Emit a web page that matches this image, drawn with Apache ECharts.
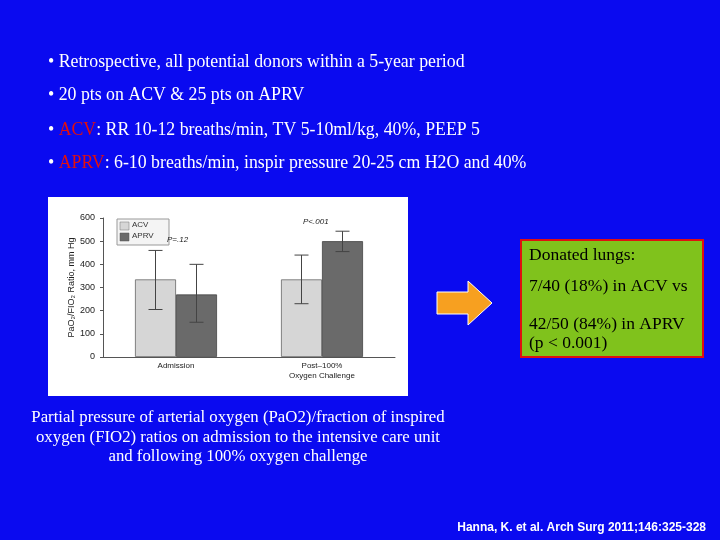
<!DOCTYPE html>
<html><head><meta charset="utf-8">
<script src="https://cdn.jsdelivr.net/npm/echarts@6/dist/echarts.min.js"></script>
<style>html,body{margin:0;background:#0a0af0}#c{width:720px;height:540px}</style>
</head><body><div id="c"></div>
<script>
const categories = ['Admission', 'Post\u2013100%\nOxygen Challenge']
const acv = [335, 335]
const aprv = [270, 500]
const acvErr = [[205, 460], [230, 440]]
const aprvErr = [[150, 400], [455, 543]]
const yTicks = [0, 100, 200, 300, 400, 500, 600]

const chart = echarts.init(document.getElementById('c'))
const serif = '"Liberation Serif", "DejaVu Serif", serif'
const sans = '"Liberation Sans", Arial, sans-serif'

const bullet = (y, parts) => ({
  type: 'text', left: 48, top: y - 10,
  style: { text: parts.map(p => p.r ? `{r|${p.t}}` : `{w|${p.t}}`).join(''),
    rich: { w: { fill: '#fff', font: '17.8px ' + serif }, r: { fill: '#e01010', font: '17.8px ' + serif } } }
})

// error bars drawn through the chart's own coordinate system
const errSeries = (errs, offset) => ({
  type: 'custom', z: 5,
  data: errs.map((e, i) => [i, e[0], e[1]]),
  renderItem: (params, api) => {
    const lo = api.coord([api.value(0), api.value(1)])
    const hi = api.coord([api.value(0), api.value(2)])
    const x = lo[0] + offset
    const style = { stroke: '#444', lineWidth: 1 }
    return { type: 'group', children: [
      { type: 'line', shape: { x1: x, y1: lo[1], x2: x, y2: hi[1] }, style },
      { type: 'line', shape: { x1: x - 7, y1: lo[1], x2: x + 7, y2: lo[1] }, style },
      { type: 'line', shape: { x1: x - 7, y1: hi[1], x2: x + 7, y2: hi[1] }, style }
    ] }
  }
})

chart.setOption({
  backgroundColor: '#0a0af0',
  animation: false,
  graphic: [
    { type: 'rect', shape: { x: 48, y: 197, width: 360, height: 199 }, style: { fill: '#fff' }, z: -10 },
    bullet(63, [{ t: '\u2022 Retrospective, all potential donors within a 5-year period' }]),
    bullet(96, [{ t: '\u2022 20 pts on ACV & 25 pts on APRV' }]),
    bullet(131, [{ t: '\u2022 ' }, { t: 'ACV', r: 1 }, { t: ': RR 10-12 breaths/min, TV 5-10ml/kg, 40%, PEEP 5' }]),
    bullet(164, [{ t: '\u2022 ' }, { t: 'APRV', r: 1 }, { t: ': 6-10 breaths/min, inspir pressure 20-25 cm H2O and 40%' }]),
    { type: 'rect', shape: { x: 521, y: 240, width: 182, height: 117 }, style: { fill: '#80c21c', stroke: '#e01010', lineWidth: 2 } },
    { type: 'text', left: 529, top: 246, style: { text: 'Donated lungs:', fill: '#000', font: '17.5px ' + serif } },
    { type: 'text', left: 529, top: 277, style: { text: '7/40 (18%) in ACV vs', fill: '#000', font: '17.5px ' + serif } },
    { type: 'text', left: 529, top: 315, style: { text: '42/50 (84%) in APRV\n(p < 0.001)', fill: '#000', font: '17.5px ' + serif, lineHeight: 19 } },
    { type: 'polygon', shape: { points: [[437, 292], [468, 292], [468, 281], [492, 303], [468, 325], [468, 314], [437, 314]] },
      style: { fill: '#f7a020', stroke: '#fff', lineWidth: 1 } },
    { type: 'text', x: 238, y: 408, style: { text: 'Partial pressure of arterial oxygen (PaO2)/fraction of inspired\noxygen (FIO2) ratios on admission to the intensive care unit\nand following 100% oxygen challenge',
      fill: '#fff', font: '16.8px ' + serif, align: 'center', lineHeight: 19.5 } },
    { type: 'text', right: 14, top: 522, style: { text: 'Hanna, K. et al. Arch Surg 2011;146:325-328', fill: '#fff', font: 'bold 12px ' + sans } },
    { type: 'rect', shape: { x: 117, y: 219, width: 52, height: 26 }, style: { fill: '#f4f4f4', stroke: '#999', lineWidth: 1 } },
    { type: 'rect', shape: { x: 120, y: 222, width: 9, height: 8 }, style: { fill: '#d6d6d6', stroke: '#777', lineWidth: 0.5 } },
    { type: 'rect', shape: { x: 120, y: 233, width: 9, height: 8 }, style: { fill: '#6a6a6a', stroke: '#555', lineWidth: 0.5 } },
    { type: 'text', left: 132, top: 221, style: { text: 'ACV', fill: '#333', font: '8px ' + sans } },
    { type: 'text', left: 132, top: 232, style: { text: 'APRV', fill: '#333', font: '8px ' + sans } },
    { type: 'text', left: 167, top: 236, style: { text: 'P=.12', fill: '#222', font: 'italic 8px ' + sans } },
    { type: 'text', left: 303, top: 218, style: { text: 'P<.001', fill: '#222', font: 'italic 8px ' + sans } }
  ],
  grid: { left: 103, right: 325, top: 218, bottom: 183 },
  xAxis: {
    type: 'category', data: categories,
    axisLine: { lineStyle: { color: '#555' } }, axisTick: { show: false },
    axisLabel: { color: '#222', fontSize: 8, fontFamily: sans, margin: 4, lineHeight: 10 }
  },
  yAxis: {
    type: 'value', min: 0, max: 600, interval: 100,
    name: 'PaO\u2082/FIO\u2082 Ratio, mm Hg', nameLocation: 'middle', nameGap: 22,
    nameTextStyle: { color: '#222', fontSize: 9, fontFamily: sans },
    axisLine: { show: true, lineStyle: { color: '#555' } }, axisTick: { show: true, length: 3 },
    splitLine: { show: false },
    axisLabel: { color: '#222', fontSize: 9, fontFamily: sans, formatter: v => yTicks.includes(v) ? v : '' }
  },
  series: [
    { name: 'ACV', type: 'bar', data: acv, barWidth: 41, barGap: '0%', itemStyle: { color: '#d6d6d6', borderColor: '#666', borderWidth: 0.8 } },
    { name: 'APRV', type: 'bar', data: aprv, barWidth: 41, itemStyle: { color: '#6a6a6a', borderColor: '#444', borderWidth: 0.8 } },
    errSeries(acvErr, -20.5),
    errSeries(aprvErr, 20.5)
  ]
})
</script></body></html>
